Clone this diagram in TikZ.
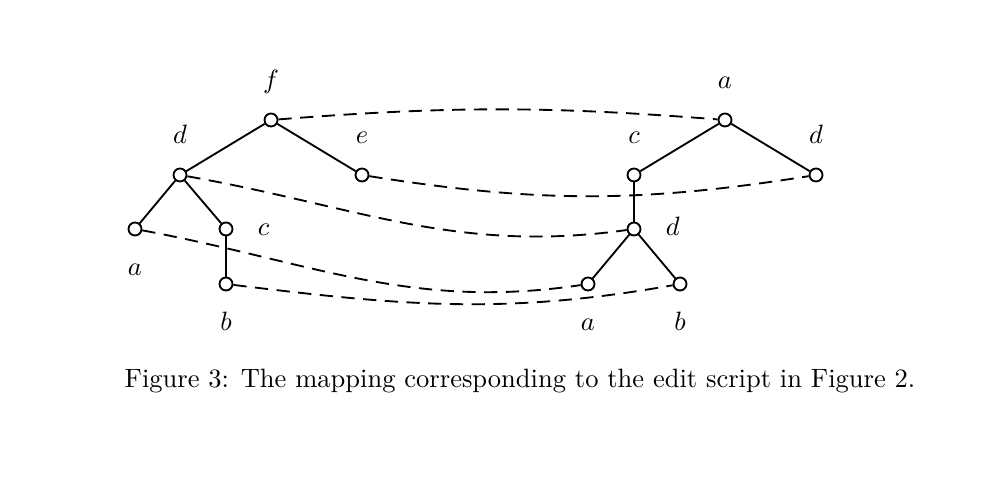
\documentclass[tikz,border=0pt]{standalone}
\usetikzlibrary{positioning}
\tikzset{
  vtx/.style={circle, draw, fill=white, inner sep=0pt,
    minimum size=4.9pt, line width=0.7pt},
  lbl/.style={inner sep=0pt, text height=7pt, text depth=2pt},
  tedge/.style={line width=0.7pt},
  mapln/.style={line width=0.7pt, dash pattern=on 5pt off 3.2pt}
}
\begin{document}
\begin{tikzpicture}[x=0.377pt, y=0.377pt]
  \useasboundingbox (0,0) rectangle (998,-480);

  % ── Left tree ──────────────────────────────────────────────────
  \node[vtx] (lf) at (271,-120) {};
  \node[vtx] (ld) at (180,-175) {};
  \node[vtx] (le) at (362,-175) {};
  \node[vtx] (la) at (135,-229) {};
  \node[vtx] (lc) at (226,-229) {};
  \node[vtx] (lb) at (226,-284) {};

  \node[lbl, above=7pt of lf] {$f$};
  \node[lbl, above=7pt of ld] {$d$};
  \node[lbl, above=7pt of le] {$e$};
  \node[lbl, below=7.5pt of la] {$a$};
  \node[lbl, right=9pt of lc] {$c$};
  \node[lbl, below=7.5pt of lb] {$b$};

  \draw[tedge] (lf) -- (ld);
  \draw[tedge] (lf) -- (le);
  \draw[tedge] (ld) -- (la);
  \draw[tedge] (ld) -- (lc);
  \draw[tedge] (lc) -- (lb);

  % ── Right tree ─────────────────────────────────────────────────
  \node[vtx] (ra)  at (725,-120) {};
  \node[vtx] (rc)  at (634,-175) {};
  \node[vtx] (rd)  at (816,-175) {};
  \node[vtx] (rcd) at (634,-229) {};
  \node[vtx] (rca) at (588,-284) {};
  \node[vtx] (rcb) at (680,-284) {};

  \node[lbl, above=7pt of ra] {$a$};
  \node[lbl, above=7pt of rc] {$c$};
  \node[lbl, above=7pt of rd] {$d$};
  \node[lbl, right=9pt of rcd] {$d$};
  \node[lbl, below=7.5pt of rca] {$a$};
  \node[lbl, below=7.5pt of rcb] {$b$};

  \draw[tedge] (ra) -- (rc);
  \draw[tedge] (ra) -- (rd);
  \draw[tedge] (rc) -- (rcd);
  \draw[tedge] (rcd) -- (rca);
  \draw[tedge] (rcd) -- (rcb);

  % ── Mapping ────────────────────────────────────────────────────
  \draw[mapln] (lf) to[out=4.5, in=175.5] (ra);
  \draw[mapln] (le) to[out=-9, in=189] (rd);
  \draw[mapln] (ld) to[out=-10, in=188] (rcd);
  \draw[mapln] (la) to[out=-10.6, in=188.5] (rca);
  \draw[mapln] (lb) to[out=-7, in=190] (rcb);

  % ── Caption ────────────────────────────────────────────────────
  \node[anchor=base] (caption) at (520,-388)
    {Figure 3: The mapping corresponding to the edit script in Figure 2.};

\end{tikzpicture}
\end{document}
